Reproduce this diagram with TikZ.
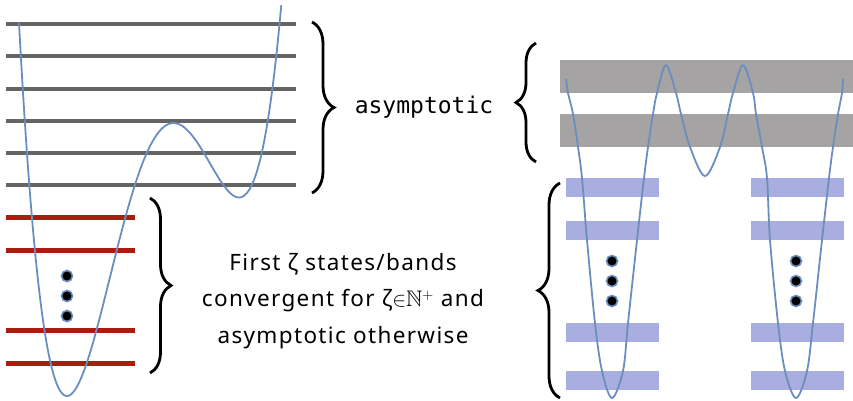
\documentclass[tikz,border=0pt]{standalone}
\usepackage{fontspec}
\usepackage{amssymb}
\setmainfont{Noto Sans}[LetterSpace=6]
\setmonofont{DejaVu Sans Mono}
\usepackage{xcolor}
\definecolor{Curve}{HTML}{6C8EBF}
\definecolor{Level}{HTML}{646464}
\definecolor{Bound}{HTML}{A91D0E}
\definecolor{Band}{HTML}{A5A3A3}
\definecolor{LowBand}{HTML}{A9AEE1}
\usepackage{tikz}
\usetikzlibrary{decorations.pathreplacing}
\tikzset{
  level/.style={draw=Level,line width=4.5pt},
  bound/.style={draw=Bound,line width=5pt},
  band/.style={fill=Band},
  lowband/.style={fill=LowBand},
  well/.style={draw=Curve,line width=1.8pt,line join=round},
  curly/.style={decorate,decoration={brace,amplitude=#1},line width=2.8pt},
  dot/.style={circle,fill=black,draw=Curve,line width=1.6pt,minimum size=11pt,inner sep=0pt},
  note/.style={font=\fontsize{22.5}{36.5}\selectfont,align=center,inner sep=0pt},
  mono/.style={font=\ttfamily\fontsize{23}{28}\selectfont,inner sep=0pt}
}

\begin{document}
\begin{tikzpicture}[x=1pt,y=-1pt]
\useasboundingbox (0,0) rectangle (853,400);

% single well: levels and bound states
\foreach \y in {24,56,89,121,153,185}
  \draw[level] (6,\y) -- (296,\y);
\foreach \y in {217,250,330,363}
  \draw[bound] (6,\y) -- (135,\y);
% quartic potential, minima at x=67 and x=239, barrier at x=173.5
\draw[well] plot[domain=-0.48:2.145,samples=160,smooth]
  ({67+100*(\x)},{396-1141.9*((\x)^4/4-0.92833*(\x)^3+0.9159*(\x)^2)});
\foreach \y [count=\i] in {276,296,316}
  \node[dot] (a\i) at (67,\y) {};

% double well: upper bands and lower bands
\fill[band] (560,60) rectangle (853,93);
\fill[band] (560,114) rectangle (853,147);
\foreach \y/\h in {178/197,221/240,323/342,371/390} {
  \fill[lowband] (566,\y) rectangle (659,\h);
  \fill[lowband] (751,\y) rectangle (844,\h);
}
\draw[well] plot[smooth,tension=0.55] coordinates {(566,79) (568,93) (573,114) (578,147)
  (582,178) (587,240) (595,323) (602,371) (612,398) (623,371) (628,323) (637,240)
  (644,178) (648,147) (653,114) (657,93) (666,65) (676,93) (681,114) (690,147)
  (705,176) (720,147) (728,114) (733,93) (743,65) (753,93) (756,114) (762,147)
  (767,178) (770,240) (778,323) (785,371) (796,398) (807,371) (813,323) (822,240)
  (829,178) (833,147) (838,114) (842,93) (843,79)};
\foreach \y [count=\i] in {261,281,301} {
  \node[dot] (b\i) at (612,\y) {};
  \node[dot] (c\i) at (796,\y) {};
}

% braces and labels
\coordinate (ut) at (312,22);
\coordinate (ub) at (312,193);
\coordinate (lt) at (150,198);
\coordinate (lb) at (150,373);
\coordinate (rt) at (536,43);
\coordinate (rb) at (536,162);
\coordinate (st) at (560,183);
\coordinate (sb) at (560,398);
\draw[curly=22pt] (ut) -- (ub);
\draw[curly=21pt] (lt) -- (lb);
\draw[curly=20pt] (rb) -- (rt);
\draw[curly=22pt] (sb) -- (st);

\node[mono] (asym) at (424,107) {asymptotic};
\node[note] (first) at (343,301)
  {First ζ states/bands\\convergent for ζ${\in}\mathbb{N}^{+}$ and\\asymptotic otherwise};
\end{tikzpicture}
\end{document}
